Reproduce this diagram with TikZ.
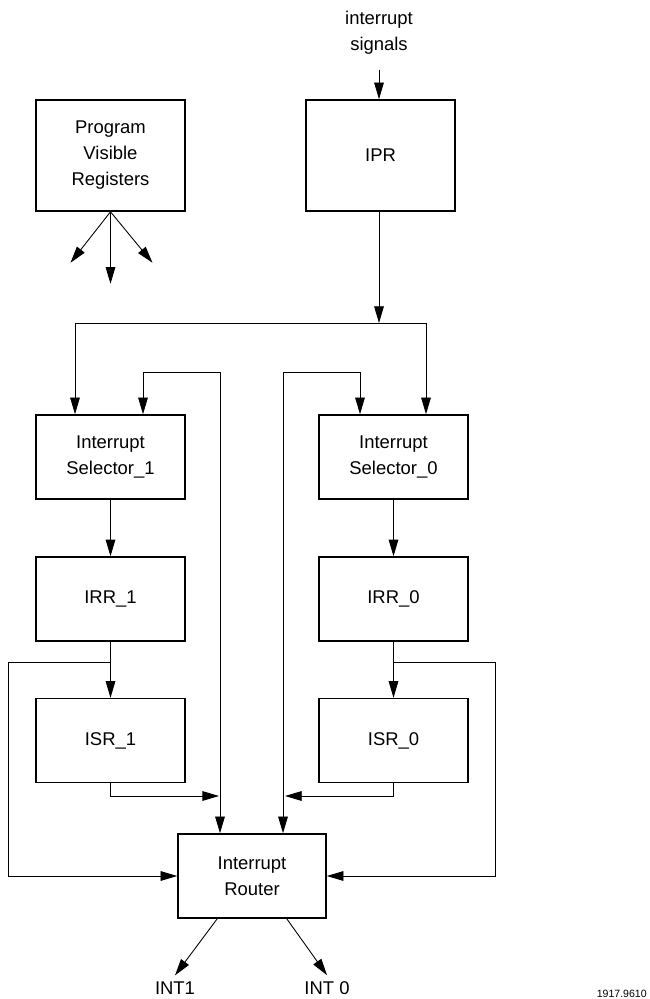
\documentclass[tikz,border=0pt]{standalone}
\usepackage{fontspec}
\setmainfont{Liberation Sans}
\usetikzlibrary{arrows.meta,positioning}
\tikzset{%
	block/.style    = {draw, rectangle, line width=0.9pt, minimum width=2.98cm, minimum height=1.68cm, align=center, font=\fontsize{10.5}{14.8}\selectfont},
	tallblock/.style = {block, minimum height=2.22cm},
	sig/.style      = {align=center, font=\fontsize{10.5}{14.8}\selectfont}, % free text
	waypoint/.style = {coordinate},
	conn/.style     = {line width=0.5pt, >={Triangle[length=9.5pt,width=5.5pt]}},
}

\begin{document}
\begin{tikzpicture}[x=0.02cm, y=-0.02cm, conn]
	\useasboundingbox (0,0) rectangle (649,999);
	\node[tallblock] (pvr) at (110.5,155.5) {Program\\Visible\\Registers};
	\node[tallblock] (ipr) at (380.5,155.5) {IPR};
	\node[sig] (sigs) at (379,33) {interrupt\\signals};
	\node[block] (sel1) at (110.5,457) {Interrupt\\Selector\_1};
	\node[block] (sel0) at (393.5,457) {Interrupt\\Selector\_0};
	\node[block,below=1.13cm of sel1] (irr1) {IRR\_1};
	\node[block,below=1.13cm of sel0] (irr0) {IRR\_0};
	\node[block,below=1.12cm of irr1] (isr1) {ISR\_1};
	\node[block,below=1.12cm of irr0] (isr0) {ISR\_0};
	\node[block,minimum width=2.96cm] (router) at (252,876) {Interrupt\\Router};
	\node[sig] (int1) at (175,988) {INT1};
	\node[sig] (int0) at (327,988) {INT 0};
	\node[sig,anchor=south east,inner sep=0.5pt,font=\fontsize{6}{7}\selectfont] (fig) at (648,998.5) {1917.9610};
	
	\node[waypoint] (split) at (379,323) {};
	\node[waypoint] (busL) at (75,323) {};
	\node[waypoint] (busR) at (426,323) {};
	\node[waypoint] (fb1) at (220,372) {};
	\node[waypoint] (fb1in) at (143,372) {};
	\node[waypoint] (fb0) at (283,372) {};
	\node[waypoint] (fb0in) at (360,372) {};
	\node[waypoint] (tap1) at (110.5,662) {};
	\node[waypoint] (lp) at (8,662) {};
	\node[waypoint] (tap0) at (393.5,662) {};
	\node[waypoint] (rp) at (495,662) {};
	\node[waypoint] (j1) at (219,796) {};
	\node[waypoint] (j0) at (285,796) {};
	
	% register outputs
	\draw[->] (pvr.south) -- ++(-40,51);
	\draw[->] (pvr.south) -- ++(0,72);
	\draw[->] (pvr.south) -- ++(42,51);
	
	\draw[->] ([yshift=-5pt]sigs.south) -- (sigs |- ipr.north);
	\draw[->] (split |- ipr.south) -- (split);
	\draw (busL) -- (busR);
	\draw[->] (busL) -- (busL |- sel1.north);
	\draw[->] (busR) -- (busR |- sel0.north);
	
	% feedback from router
	\draw[<->] (fb1in |- sel1.north) -- (fb1in) -- (fb1) -- (fb1 |- router.north);
	\draw[<->] (fb0in |- sel0.north) -- (fb0in) -- (fb0) -- (fb0 |- router.north);
	
	\draw[->] (sel1) -- (irr1);
	\draw[->] (sel0) -- (irr0);
	\draw[->] (irr1) -- (isr1);
	\draw[->] (irr0) -- (isr0);
	\draw[->] (tap1) -- (lp) |- (router.west);
	\draw[->] (tap0) -- (rp) |- (router.east);
	\draw[->] (isr1) |- (j1);
	\draw[->] (isr0) |- (j0);
	
	\draw[->] ([xshift=0.8cm]router.south west) -- (int1.north);
	\draw[->] ([xshift=-0.8cm]router.south east) -- (int0.north);
\end{tikzpicture}
\end{document}
